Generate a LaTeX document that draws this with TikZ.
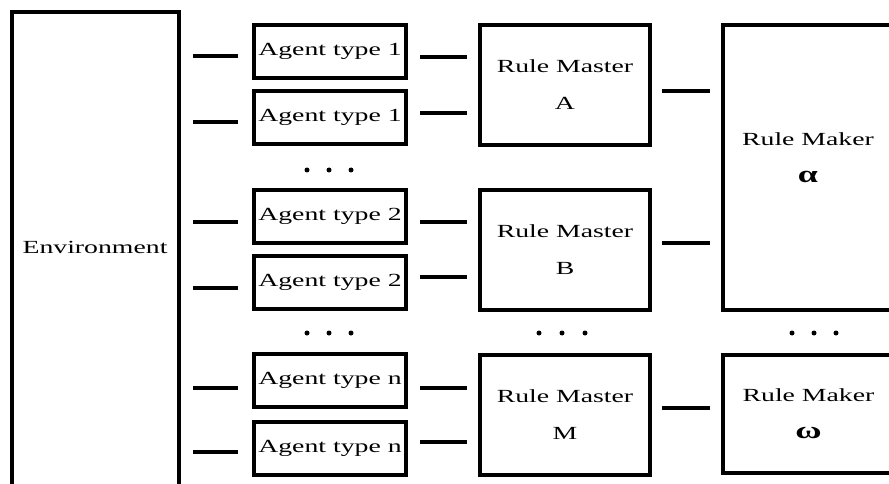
\documentclass[tikz,border=0pt]{standalone}
\usepackage{fontspec}
\setmainfont{Liberation Serif}[FakeStretch=1.5]
\newcommand{\boxfont}{\fontsize{18.5}{37}\selectfont}
\newcommand{\greekmark}[1]{{\fontsize{24}{24}\selectfont\bfseries #1}}
\begin{document}
\begin{tikzpicture}[x=1pt,y=-1pt,
  framed/.style={draw, inner sep=0pt, outer sep=0pt, align=center, font=\boxfont},
  envbox/.style={framed, line width=4pt, minimum width=167pt, minimum height=508pt},
  agentbox/.style={framed, line width=4.5pt, minimum width=152pt, minimum height=53pt},
  masterbox/.style={framed, line width=3.5pt, minimum width=170pt, minimum height=120pt},
  makerbox/.style={framed, line width=4pt, minimum width=171pt},
  label/.style={inner sep=0pt, align=center, font=\boxfont},
  link/.style={line width=4pt, line cap=butt},
  dot/.style={fill=black}
]
\useasboundingbox (0,0) rectangle (889,484);
\clip (0,0) rectangle (889,484);

% environment column (runs past the lower edge)
\node[envbox] (env) at (95.5,266) {};
\node[label] (envlabel) at (95,247) {Environment};

% agents
\node[agentbox] (a1) at (330,51.5)  {Agent type 1};
\node[agentbox] (a2) at (330,117.5) {Agent type 1};
\node[agentbox] (b1) at (330,216.5) {Agent type 2};
\node[agentbox] (b2) at (330,282.5) {Agent type 2};
\node[agentbox] (n1) at (330,380.5) {Agent type n};
\node[agentbox] (n2) at (330,448.5) {Agent type n};

% rule masters
\node[masterbox] (mA) at (565,85)  {Rule Master\\A};
\node[masterbox] (mB) at (565,250) {Rule Master\\B};
\node[masterbox] (mM) at (565,415) {Rule Master\\M};

% rule makers
\node[makerbox, minimum height=285pt] (kA) at (808.5,167.5) {};
\node[label] (kAlabel) at (808,158) {Rule Maker\\\greekmark{α}};
\node[makerbox, minimum height=118pt] (kW) at (808.5,414) {Rule Maker\\\greekmark{ω}};

% environment to agents
\draw[link] ([xshift=14pt,yshift=-4.5pt]env.east |- a1.west) -- ([xshift=-16pt,yshift=-4.5pt]a1.west);
\draw[link] ([xshift=14pt,yshift=-4.5pt]env.east |- a2.west) -- ([xshift=-16pt,yshift=-4.5pt]a2.west);
\draw[link] ([xshift=14pt,yshift=-5.5pt]env.east |- b1.west) -- ([xshift=-16pt,yshift=-5.5pt]b1.west);
\draw[link] ([xshift=14pt,yshift=-5.5pt]env.east |- b2.west) -- ([xshift=-16pt,yshift=-5.5pt]b2.west);
\draw[link] ([xshift=14pt,yshift=-7.5pt]env.east |- n1.west) -- ([xshift=-16pt,yshift=-7.5pt]n1.west);
\draw[link] ([xshift=14pt,yshift=-3.5pt]env.east |- n2.west) -- ([xshift=-16pt,yshift=-3.5pt]n2.west);

% agents to rule masters
\draw[link] ([xshift=14pt,yshift=-5.5pt]a1.east) -- ([xshift=-13pt,yshift=-5.5pt]mA.west |- a1.east);
\draw[link] ([xshift=14pt,yshift=4.5pt]a2.east)  -- ([xshift=-13pt,yshift=4.5pt]mA.west |- a2.east);
\draw[link] ([xshift=14pt,yshift=-5.5pt]b1.east) -- ([xshift=-13pt,yshift=-5.5pt]mB.west |- b1.east);
\draw[link] ([xshift=14pt,yshift=5.5pt]b2.east)  -- ([xshift=-13pt,yshift=5.5pt]mB.west |- b2.east);
\draw[link] ([xshift=14pt,yshift=-7.5pt]n1.east) -- ([xshift=-13pt,yshift=-7.5pt]mM.west |- n1.east);
\draw[link] ([xshift=14pt,yshift=6.5pt]n2.east)  -- ([xshift=-13pt,yshift=6.5pt]mM.west |- n2.east);

% rule masters to rule makers
\draw[link] ([xshift=12pt,yshift=-6pt]mA.east) -- ([xshift=-13pt,yshift=-6pt]kA.west |- mA.east);
\draw[link] ([xshift=12pt,yshift=7pt]mB.east)  -- ([xshift=-13pt,yshift=7pt]kA.west |- mB.east);
\draw[link] ([xshift=12pt,yshift=7pt]mM.east)  -- ([xshift=-13pt,yshift=7pt]kW.west |- mM.east);

% ellipsis dots
\foreach \x in {307,329,351} \fill[dot] (\x,170) circle (2.5);
\foreach \x in {307,329,351} \fill[dot] (\x,333) circle (2.5);
\foreach \x in {539,562,585} \fill[dot] (\x,333) circle (2.5);
\foreach \x in {792,814,836} \fill[dot] (\x,333) circle (2.5);
\end{tikzpicture}
\end{document}
